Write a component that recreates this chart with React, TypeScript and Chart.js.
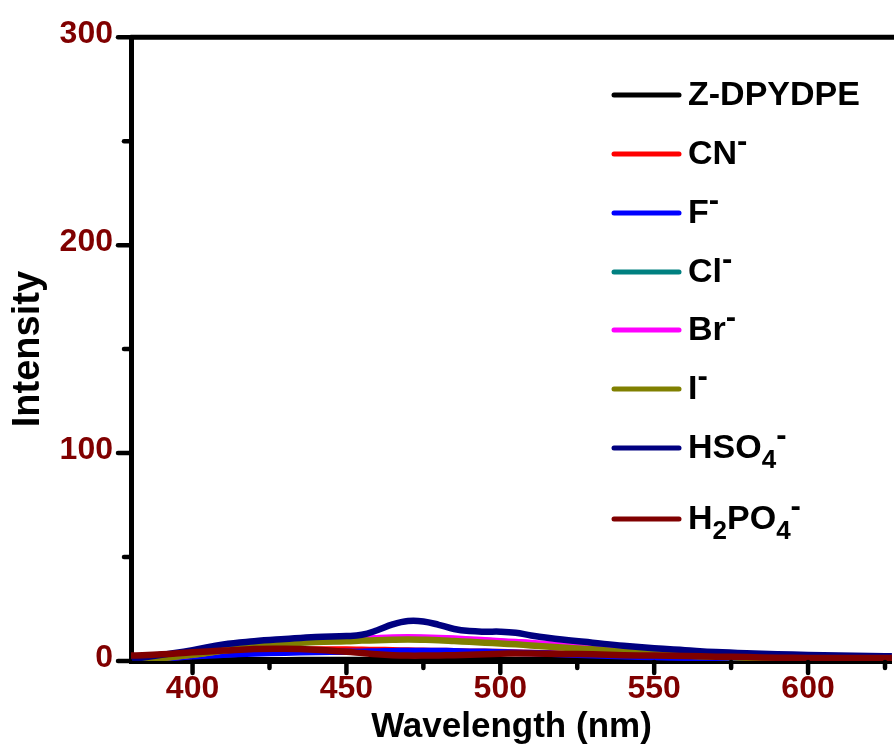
import React, { useEffect, useRef } from "react";
import { Chart, registerables } from "chart.js";

Chart.register(...registerables);

// ---------------- data ----------------
const wavelengths = [380, 390, 400, 410, 420, 430, 440, 450, 455, 460, 465, 470, 475, 480, 485, 490, 495, 500, 505, 510, 520, 530, 540, 550, 560, 570, 580, 590, 600, 610, 620, 630];

const zDpydpe = [0.1, 0.2, 0.3, 0.3, 0.4, 0.4, 0.5, 0.5, 0.5, 0.5, 0.5, 0.5, 0.5, 0.5, 0.5, 0.5, 0.5, 0.5, 0.4, 0.4, 0.4, 0.3, 0.3, 0.3, 0.2, 0.2, 0.2, 0.2, 0.1, 0.1, 0.1, 0.1];
const cn = [0.4, 1.3, 2.5, 3.5, 4.5, 5.1, 5.5, 5.5, 5.4, 5.3, 5.2, 5.0, 4.9, 4.8, 4.7, 4.5, 4.4, 4.3, 4.1, 3.9, 3.5, 3.1, 2.8, 2.4, 2.0, 1.7, 1.5, 1.3, 1.2, 1.1, 1.0, 0.9];
const f = [0.3, 1.2, 2.3, 3.0, 3.6, 4.0, 4.3, 4.5, 4.5, 4.6, 4.7, 4.8, 4.8, 4.8, 4.7, 4.5, 4.4, 4.2, 4.0, 3.8, 3.3, 2.8, 2.3, 1.9, 1.6, 1.3, 1.1, 1.0, 0.9, 0.8, 0.7, 0.6];
const cl = [0.5, 1.5, 3.1, 5.1, 7.1, 8.5, 9.4, 9.8, 10.3, 10.7, 11.0, 11.1, 11.0, 10.8, 10.5, 10.1, 9.7, 9.3, 8.8, 8.2, 7.1, 6.1, 4.9, 3.8, 2.9, 2.3, 1.8, 1.5, 1.2, 1.1, 1.0, 0.9];
const br = [0.5, 1.5, 3.1, 5.1, 7.1, 8.6, 9.5, 10.0, 10.6, 11.0, 11.3, 11.4, 11.3, 11.1, 10.8, 10.4, 10.0, 9.5, 9.1, 8.7, 7.6, 6.5, 5.2, 4.0, 3.0, 2.4, 1.9, 1.5, 1.2, 1.1, 1.0, 0.9];
const iodide = [0.5, 1.4, 3.0, 5.0, 7.0, 8.3, 9.1, 9.5, 9.8, 10.0, 10.2, 10.3, 10.2, 10.0, 9.6, 9.2, 8.8, 8.4, 8.0, 7.5, 6.5, 5.6, 4.5, 3.4, 2.6, 2.0, 1.6, 1.3, 1.1, 1.0, 0.9, 0.8];
const hso4 = [0.8, 3.0, 5.2, 8.0, 9.5, 10.6, 11.6, 12.0, 12.6, 14.8, 17.6, 19.2, 19.0, 17.4, 15.4, 14.4, 14.1, 14.1, 13.6, 12.3, 10.3, 8.8, 7.3, 6.1, 5.2, 4.3, 3.7, 3.3, 2.9, 2.6, 2.4, 2.2];
const h2po4 = [2.6, 3.2, 4.2, 5.0, 5.8, 5.9, 5.4, 4.4, 3.8, 3.2, 2.8, 2.6, 2.6, 2.7, 2.8, 3.0, 3.3, 3.5, 3.6, 3.6, 3.4, 3.2, 2.8, 2.6, 2.4, 2.1, 1.9, 1.6, 1.5, 1.4, 1.4, 1.4];

const seriesLabels = ["Z-DPYDPE", "CN-", "F-", "Cl-", "Br-", "I-", "HSO4-", "H2PO4-"];
const seriesValues = [zDpydpe, cn, f, cl, br, iodide, hso4, h2po4];
const seriesColors = ["#000000", "#FF0000", "#0000FF", "#008080", "#FF00FF", "#808000", "#000080", "#800000"];

// axis ticks (major ones carry labels)
const xTickValues = [400, 425, 450, 475, 500, 525, 550, 575, 600, 625];
const xLabelValues = [400, 450, 500, 550, 600];
const yTickValues = [0, 50, 100, 150, 200, 250, 300];
const yLabelValues = [0, 100, 200, 300];

// legend text pieces (n = normal, sub = subscript, sup = superscript)
type Piece = { t: string; k: "n" | "sub" | "sup" };
const legendPieces: Piece[][] = [
  [{ t: "Z-DPYDPE", k: "n" }],
  [{ t: "CN", k: "n" }, { t: "-", k: "sup" }],
  [{ t: "F", k: "n" }, { t: "-", k: "sup" }],
  [{ t: "Cl", k: "n" }, { t: "-", k: "sup" }],
  [{ t: "Br", k: "n" }, { t: "-", k: "sup" }],
  [{ t: "I", k: "n" }, { t: "-", k: "sup" }],
  [{ t: "HSO", k: "n" }, { t: "4", k: "sub" }, { t: "-", k: "sup" }],
  [{ t: "H", k: "n" }, { t: "2", k: "sub" }, { t: "PO", k: "n" }, { t: "4", k: "sub" }, { t: "-", k: "sup" }],
];

const xMin = 380;
const xMax = 627.25;
const yMin = 0;
const yMax = 300;

const FAMILY = '"Liberation Sans", Arial, Helvetica, sans-serif';
const TICK_COLOR = "#800000";

// ---------------- plugins ----------------
const frameTicksPlugin = {
  id: "frameTicks",
  afterDraw(chart: any) {
    const { ctx, chartArea } = chart;
    const xs = chart.scales.x;
    const ys = chart.scales.y;
    ctx.save();
    ctx.strokeStyle = "#000";
    ctx.lineCap = "round";
    ctx.lineWidth = 5;
    ctx.beginPath();
    ctx.moveTo(chartArea.left, chartArea.top);
    ctx.lineTo(chartArea.right + 5, chartArea.top);
    ctx.stroke();
    ctx.lineWidth = 4.5;
    xs.ticks.forEach((t: any) => {
      const px = xs.getPixelForValue(t.value);
      const major = xLabelValues.includes(t.value);
      ctx.beginPath();
      ctx.moveTo(px, chartArea.bottom + 1);
      ctx.lineTo(px, chartArea.bottom + (major ? 12 : 7));
      ctx.stroke();
    });
    ys.ticks.forEach((t: any) => {
      const py = ys.getPixelForValue(t.value);
      const major = yLabelValues.includes(t.value);
      ctx.beginPath();
      ctx.moveTo(chartArea.left - 1, py);
      ctx.lineTo(chartArea.left - (major ? 13 : 7), py);
      ctx.stroke();
    });
    ctx.restore();
  },
};

const legendPlugin = {
  id: "pieceLegend",
  afterDatasetsDraw(chart: any) {
    const { ctx } = chart;
    const rowY = [95, 154, 213, 272, 330, 389, 448, 519];
    const lineX0 = 614;
    const lineX1 = 679;
    const textX = 688;
    ctx.save();
    legendPieces.forEach((pieces, i) => {
      const y = rowY[i];
      ctx.strokeStyle = seriesColors[i];
      ctx.lineWidth = 5;
      ctx.lineCap = "round";
      ctx.beginPath();
      ctx.moveTo(lineX0, y);
      ctx.lineTo(lineX1, y);
      ctx.stroke();
      const base = y + 10;
      let x = textX;
      ctx.fillStyle = "#000";
      ctx.textBaseline = "alphabetic";
      ctx.textAlign = "left";
      pieces.forEach((p) => {
        let size = 34;
        let by = base;
        if (p.k === "sub") {
          size = 26;
          by = base + 9.5;
        } else if (p.k === "sup") {
          size = 31;
          by = base - 13.5;
        }
        ctx.font = `bold ${size}px ${FAMILY}`;
        ctx.fillText(p.t, x, by);
        x += ctx.measureText(p.t).width;
      });
    });
    ctx.restore();
  },
};

export default function App() {
  const canvasRef = useRef<HTMLCanvasElement | null>(null);

  useEffect(() => {
    const canvas = canvasRef.current;
    if (!canvas) return;
    const datasets = seriesLabels.map((label, i) => ({
      label,
      data: wavelengths.map((w, j) => ({ x: w, y: seriesValues[i][j] })),
      borderColor: seriesColors[i],
      backgroundColor: seriesColors[i],
      borderWidth: 6.5,
      pointRadius: 0,
      tension: 0.4,
      fill: false,
      order: seriesLabels.length - i,
    }));

    const chart = new Chart(canvas, {
      type: "line",
      data: { datasets },
      options: {
        animation: false,
        responsive: false,
        devicePixelRatio: 1,
        layout: { padding: { top: 36, right: 0, left: 0, bottom: 0 } },
        plugins: {
          legend: { display: false },
          tooltip: { enabled: false },
        },
        elements: { line: { borderJoinStyle: "round", borderCapStyle: "round" } },
        scales: {
          x: {
            type: "linear",
            min: xMin,
            max: xMax,
            afterFit: (s: any) => {
              s.height = 95;
            },
            afterBuildTicks: (s: any) => {
              s.ticks = xTickValues.map((v) => ({ value: v }));
            },
            ticks: {
              autoSkip: false,
              maxRotation: 0,
              padding: 9,
              color: TICK_COLOR,
              font: { family: FAMILY, size: 32, weight: "bold" },
              callback: (v: any) => (xLabelValues.includes(Number(v)) ? String(v) : ""),
            },
            grid: { display: true, drawOnChartArea: false, drawTicks: false },
            border: { display: true, color: "#000", width: 5 },
            title: {
              display: true,
              text: "Wavelength (nm)",
              color: "#000",
              font: { family: FAMILY, size: 35, weight: "bold" },
              padding: { top: 0, bottom: 8 },
            },
          },
          y: {
            type: "linear",
            min: yMin,
            max: yMax,
            afterFit: (s: any) => {
              s.width = 131;
            },
            afterBuildTicks: (s: any) => {
              s.ticks = yTickValues.map((v) => ({ value: v }));
            },
            ticks: {
              autoSkip: false,
              padding: 18,
              labelOffset: -3,
              color: TICK_COLOR,
              font: { family: FAMILY, size: 32, weight: "bold" },
              callback: (v: any) => (yLabelValues.includes(Number(v)) ? String(v) : ""),
            },
            grid: { display: true, drawOnChartArea: false, drawTicks: false },
            border: { display: true, color: "#000", width: 5 },
            title: {
              display: true,
              text: "Intensity",
              color: "#000",
              font: { family: FAMILY, size: 38, weight: "bold" },
              padding: { top: 6, bottom: 0 },
            },
          },
        },
      },
      plugins: [frameTicksPlugin, legendPlugin],
    } as any);

    return () => {
      chart.destroy();
    };
  }, []);

  return (
    <div style={{ position: "fixed", left: 0, top: 0, width: 894, height: 756, overflow: "hidden", background: "#fff" }}>
      <canvas ref={canvasRef} width={894} height={756} style={{ display: "block", width: 894, height: 756 }} />
    </div>
  );
}
